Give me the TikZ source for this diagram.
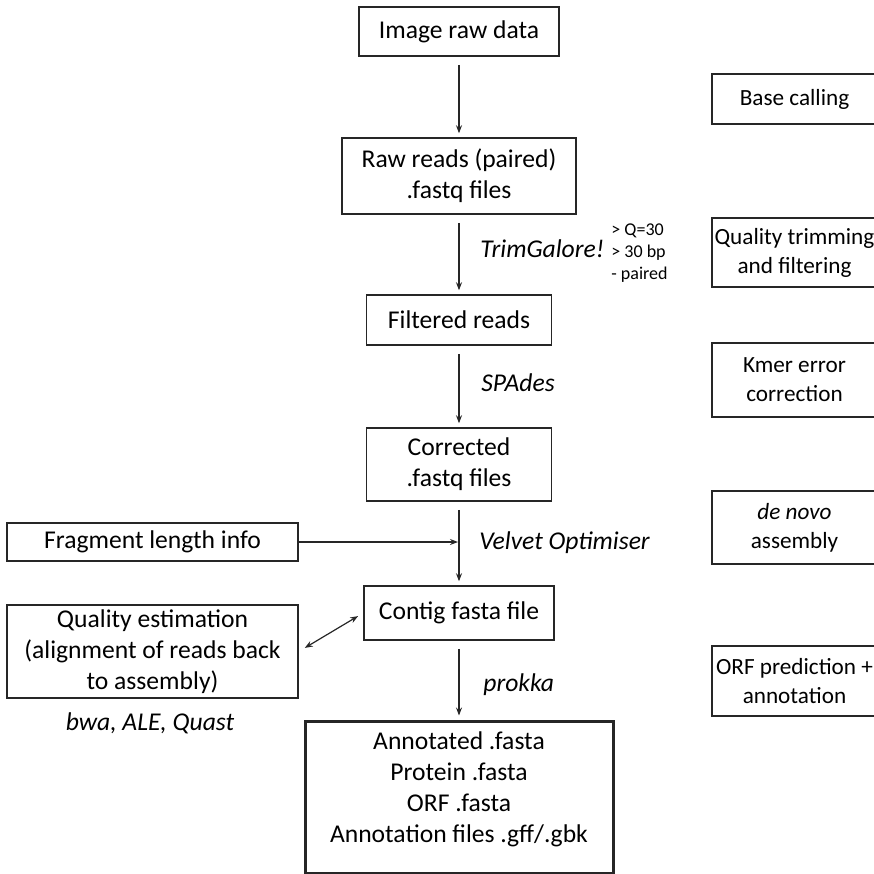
\documentclass[tikz,border=0pt]{standalone}
\usepackage{fontspec}
\setmainfont{Carlito}
\usepackage{tikz}
\usetikzlibrary{positioning,calc,arrows.meta}

\begin{document}
\begin{tikzpicture}[x=0.5pt, y=-0.5pt,
    box/.style={draw=black!85, line width=0.75pt, align=center, inner sep=0pt,
        font=\fontsize{12.8}{15.5}\selectfont},
    stagebox/.style={box, font=\fontsize{11.6}{14.5}\selectfont},
    arr/.style={draw=black!85, line width=0.6pt, -{Stealth[length=4pt,width=3pt]},
        shorten <=4pt, shorten >=2pt},
    tool/.style={anchor=west, inner sep=0pt, font=\fontsize{12.8}{15}\selectfont\itshape},
    crit/.style={anchor=west, inner sep=0pt, align=left, font=\fontsize{9}{11}\selectfont}]
    \useasboundingbox (0,0) rectangle (874,874);

    % main column
    \node [box, minimum width=100pt, minimum height=24.5pt] (img) at (459,31.5) {Image raw data};
    \node [box, minimum width=117pt, minimum height=38pt] (raw) at (459,176) {Raw reads (paired)\\.fastq files};
    \node [box, minimum width=92.5pt, minimum height=25pt] (filt) at (459,320) {Filtered reads};
    \node [box, minimum width=92.5pt, minimum height=36.5pt] (corr) at (459,464.5) {Corrected\\.fastq files};
    \node [box, minimum width=95pt, minimum height=27pt] (contig) at (459,613) {Contig fasta file};
    \node [box, line width=1.5pt, minimum width=154pt, minimum height=76pt] (annot) at (459,797) {};
    \node [align=center, font=\fontsize{12.8}{15.5}\selectfont] (annottxt) at (459,789.5)
        {Annotated .fasta\\Protein .fasta\\ORF .fasta\\Annotation files .gff/.gbk};

    % left inputs
    \node [box, minimum width=145.5pt, minimum height=19pt] (frag) at (152.5,542) {Fragment length info};
    \node [box, minimum width=145.5pt, minimum height=46.5pt] (qual) at (152.5,651.5)
        {Quality estimation\\(alignment of reads back\\to assembly)};
    \node [font=\fontsize{12.8}{15}\selectfont\itshape] (bwa) at (150,723) {bwa, ALE, Quast};

    % right column (steps)
    \foreach \y/\h/\txt [count=\i] in {99/25/{Base calling},
            252.5/34.5/{Quality trimming\\and filtering},
            380/37/{Kmer error\\correction},
            527.5/36.5/{{\itshape de novo}\\assembly},
            681/35/{ORF prediction +\\annotation}}
        \node [stagebox, minimum width=82.5pt, minimum height=\h pt] (stage\i) at (794.5,\y) {\txt};

    % tools
    \node [tool] (trimlbl) at (480,249) {TrimGalore!};
    \node [crit] (trimcrit) at (611,253) {> Q=30\\> 30 bp\\- paired};
    \node [tool] (spadeslbl) at (481,383) {SPAdes};
    \node [tool] (velvetlbl) at (479,543) {Velvet Optimiser};
    \node [tool] (prokkalbl) at (483,685) {prokka};

    % connectors
    \draw [arr] (img) -- (raw);
    \draw [arr] (raw) -- (filt);
    \draw [arr] (filt) -- (corr);
    \draw [arr] (corr) -- (contig);
    \draw [arr] (contig) -- (annot);
    \coordinate (join) at (corr.south |- frag.east);
    \draw [arr, shorten <=0pt, shorten >=0.5pt] (frag) -- (join);
    \draw [arr, {Stealth[length=4pt,width=3pt]}-{Stealth[length=4pt,width=3pt]},
        shorten <=3.5pt, shorten >=3pt] (qual.east) -- (contig.west);
\end{tikzpicture}
\end{document}
